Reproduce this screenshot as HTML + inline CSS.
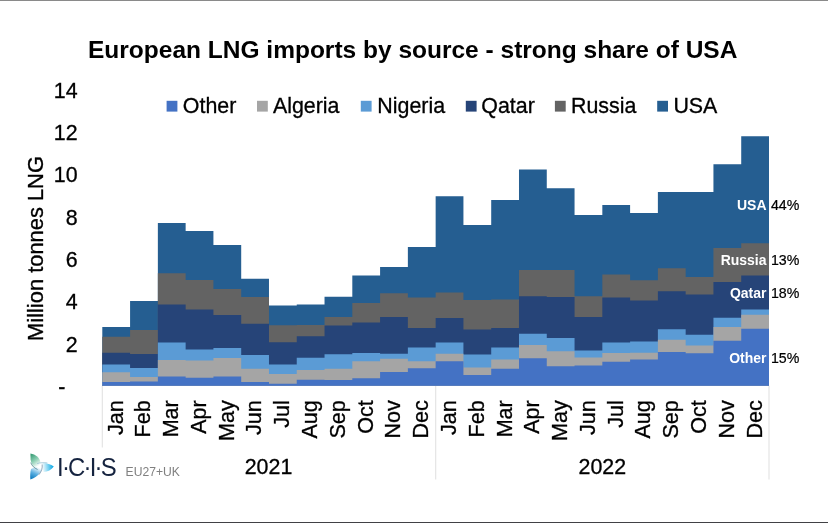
<!DOCTYPE html>
<html lang="en">
<head>
<meta charset="utf-8">
<title>European LNG imports by source</title>
<style>
html,body{margin:0;padding:0;background:#fff;}
body{width:828px;height:523px;overflow:hidden;position:relative;font-family:"Liberation Sans",Arial,sans-serif;}
</style>
</head>
<body>
<svg width="828" height="523" viewBox="0 0 828 523" style="position:absolute;left:0;top:0">
<defs><linearGradient id="g1" gradientUnits="userSpaceOnUse" x1="31" y1="455" x2="39.5" y2="467"><stop offset="0" stop-color="#3d9f78"/><stop offset="0.45" stop-color="#8fd0b5"/><stop offset="0.9" stop-color="#ffffff"/></linearGradient><linearGradient id="g2" gradientUnits="userSpaceOnUse" x1="53" y1="466.4" x2="41.5" y2="467.5"><stop offset="0" stop-color="#10a8e4"/><stop offset="0.45" stop-color="#7fd4f2"/><stop offset="0.95" stop-color="#ffffff"/></linearGradient><linearGradient id="g3" gradientUnits="userSpaceOnUse" x1="31" y1="479" x2="37" y2="466"><stop offset="0" stop-color="#0878bd"/><stop offset="0.45" stop-color="#5aaee0"/><stop offset="0.95" stop-color="#ffffff"/></linearGradient></defs>
<rect x="0" y="0" width="828" height="523" fill="#fff"/>
<rect x="0" y="0" width="828" height="1" fill="#8a8a8a"/>
<rect x="0" y="522" width="828" height="1" fill="#414145"/>
<g stroke="#e2e2e2" stroke-width="1.1" fill="none"><path d="M102.3,385.8 V447.5"/><path d="M435.7,385.8 V479.5"/><path d="M769.0,385.8 V479.5"/></g>
<g shape-rendering="auto">
<path d="M102.30,385.80 L102.30,327.00 L130.08,327.00 L130.08,301.00 L157.86,301.00 L157.86,223.00 L185.64,223.00 L185.64,231.00 L213.42,231.00 L213.42,245.00 L241.20,245.00 L241.20,278.75 L268.98,278.75 L268.98,305.50 L296.75,305.50 L296.75,304.50 L324.53,304.50 L324.53,296.75 L352.31,296.75 L352.31,275.50 L380.09,275.50 L380.09,267.00 L407.87,267.00 L407.87,247.00 L435.65,247.00 L435.65,196.25 L463.43,196.25 L463.43,225.00 L491.21,225.00 L491.21,200.00 L518.99,200.00 L518.99,169.50 L546.77,169.50 L546.77,188.25 L574.55,188.25 L574.55,215.00 L602.33,215.00 L602.33,205.00 L630.10,205.00 L630.10,213.00 L657.88,213.00 L657.88,192.00 L685.66,192.00 L685.66,192.00 L713.44,192.00 L713.44,164.25 L741.22,164.25 L741.22,136.25 L769.00,136.25 L769.00,385.80 Z" fill="#255e91"/>
<path d="M102.30,385.80 L102.30,336.75 L130.08,336.75 L130.08,330.00 L157.86,330.00 L157.86,273.25 L185.64,273.25 L185.64,280.00 L213.42,280.00 L213.42,289.00 L241.20,289.00 L241.20,297.00 L268.98,297.00 L268.98,325.25 L296.75,325.25 L296.75,325.00 L324.53,325.00 L324.53,317.00 L352.31,317.00 L352.31,303.00 L380.09,303.00 L380.09,293.25 L407.87,293.25 L407.87,297.50 L435.65,297.50 L435.65,292.50 L463.43,292.50 L463.43,300.00 L491.21,300.00 L491.21,299.50 L518.99,299.50 L518.99,270.00 L546.77,270.00 L546.77,270.00 L574.55,270.00 L574.55,296.25 L602.33,296.25 L602.33,274.50 L630.10,274.50 L630.10,280.25 L657.88,280.25 L657.88,268.25 L685.66,268.25 L685.66,277.00 L713.44,277.00 L713.44,248.00 L741.22,248.00 L741.22,243.25 L769.00,243.25 L769.00,385.80 Z" fill="#636363"/>
<path d="M102.30,385.80 L102.30,352.75 L130.08,352.75 L130.08,354.00 L157.86,354.00 L157.86,304.50 L185.64,304.50 L185.64,309.50 L213.42,309.50 L213.42,315.00 L241.20,315.00 L241.20,323.75 L268.98,323.75 L268.98,342.30 L296.75,342.30 L296.75,336.25 L324.53,336.25 L324.53,325.50 L352.31,325.50 L352.31,322.50 L380.09,322.50 L380.09,317.00 L407.87,317.00 L407.87,328.00 L435.65,328.00 L435.65,318.00 L463.43,318.00 L463.43,329.50 L491.21,329.50 L491.21,328.00 L518.99,328.00 L518.99,296.25 L546.77,296.25 L546.77,297.00 L574.55,297.00 L574.55,317.00 L602.33,317.00 L602.33,297.50 L630.10,297.50 L630.10,300.60 L657.88,300.60 L657.88,291.25 L685.66,291.25 L685.66,294.50 L713.44,294.50 L713.44,282.00 L741.22,282.00 L741.22,275.50 L769.00,275.50 L769.00,385.80 Z" fill="#264478"/>
<path d="M102.30,385.80 L102.30,364.60 L130.08,364.60 L130.08,368.00 L157.86,368.00 L157.86,342.50 L185.64,342.50 L185.64,349.60 L213.42,349.60 L213.42,348.00 L241.20,348.00 L241.20,355.00 L268.98,355.00 L268.98,364.50 L296.75,364.50 L296.75,357.70 L324.53,357.70 L324.53,354.25 L352.31,354.25 L352.31,353.00 L380.09,353.00 L380.09,353.75 L407.87,353.75 L407.87,347.50 L435.65,347.50 L435.65,342.50 L463.43,342.50 L463.43,354.50 L491.21,354.50 L491.21,347.50 L518.99,347.50 L518.99,333.75 L546.77,333.75 L546.77,338.00 L574.55,338.00 L574.55,350.50 L602.33,350.50 L602.33,342.50 L630.10,342.50 L630.10,341.60 L657.88,341.60 L657.88,329.20 L685.66,329.20 L685.66,334.75 L713.44,334.75 L713.44,317.75 L741.22,317.75 L741.22,309.50 L769.00,309.50 L769.00,385.80 Z" fill="#5b9bd5"/>
<path d="M102.30,385.80 L102.30,372.30 L130.08,372.30 L130.08,377.00 L157.86,377.00 L157.86,360.00 L185.64,360.00 L185.64,360.50 L213.42,360.50 L213.42,358.00 L241.20,358.00 L241.20,368.75 L268.98,368.75 L268.98,374.00 L296.75,374.00 L296.75,370.00 L324.53,370.00 L324.53,368.75 L352.31,368.75 L352.31,361.25 L380.09,361.25 L380.09,358.75 L407.87,358.75 L407.87,361.25 L435.65,361.25 L435.65,353.75 L463.43,353.75 L463.43,367.50 L491.21,367.50 L491.21,359.50 L518.99,359.50 L518.99,345.00 L546.77,345.00 L546.77,351.25 L574.55,351.25 L574.55,357.50 L602.33,357.50 L602.33,353.00 L630.10,353.00 L630.10,352.75 L657.88,352.75 L657.88,339.75 L685.66,339.75 L685.66,345.40 L713.44,345.40 L713.44,327.00 L741.22,327.00 L741.22,314.75 L769.00,314.75 L769.00,385.80 Z" fill="#a5a5a5"/>
<path d="M102.30,385.80 L102.30,382.00 L130.08,382.00 L130.08,381.50 L157.86,381.50 L157.86,376.50 L185.64,376.50 L185.64,377.70 L213.42,377.70 L213.42,376.50 L241.20,376.50 L241.20,382.00 L268.98,382.00 L268.98,383.80 L296.75,383.80 L296.75,379.70 L324.53,379.70 L324.53,380.00 L352.31,380.00 L352.31,378.25 L380.09,378.25 L380.09,372.00 L407.87,372.00 L407.87,368.25 L435.65,368.25 L435.65,361.25 L463.43,361.25 L463.43,375.00 L491.21,375.00 L491.21,368.75 L518.99,368.75 L518.99,358.25 L546.77,358.25 L546.77,366.25 L574.55,366.25 L574.55,365.50 L602.33,365.50 L602.33,361.75 L630.10,361.75 L630.10,359.50 L657.88,359.50 L657.88,352.00 L685.66,352.00 L685.66,353.25 L713.44,353.25 L713.44,340.75 L741.22,340.75 L741.22,328.75 L769.00,328.75 L769.00,385.80 Z" fill="#4472c4"/>
</g>
<text transform="translate(412.70,58.00)" text-anchor="middle" font-family="Liberation Sans, Arial, sans-serif" font-size="24.5" font-weight="bold" fill="#000">European LNG imports by source - strong share of USA</text>
<rect x="166.6" y="100.8" width="10.8" height="10.8" fill="#4472c4"/>
<text transform="translate(182.80,113.20) scale(1,1.04)" font-family="Liberation Sans, Arial, sans-serif" font-size="21.4" fill="#000" stroke="#000" stroke-width="0.30">Other</text>
<rect x="257.0" y="100.8" width="10.8" height="10.8" fill="#a5a5a5"/>
<text transform="translate(272.90,113.20) scale(1,1.04)" font-family="Liberation Sans, Arial, sans-serif" font-size="21.4" fill="#000" stroke="#000" stroke-width="0.30">Algeria</text>
<rect x="360.8" y="100.8" width="10.8" height="10.8" fill="#5b9bd5"/>
<text transform="translate(377.30,113.20) scale(1,1.04)" font-family="Liberation Sans, Arial, sans-serif" font-size="21.4" fill="#000" stroke="#000" stroke-width="0.30">Nigeria</text>
<rect x="465.8" y="100.8" width="10.8" height="10.8" fill="#264478"/>
<text transform="translate(481.30,113.20) scale(1,1.04)" font-family="Liberation Sans, Arial, sans-serif" font-size="21.4" fill="#000" stroke="#000" stroke-width="0.30">Qatar</text>
<rect x="554.9" y="100.8" width="10.8" height="10.8" fill="#636363"/>
<text transform="translate(571.00,113.20) scale(1,1.04)" font-family="Liberation Sans, Arial, sans-serif" font-size="21.4" fill="#000" stroke="#000" stroke-width="0.30">Russia</text>
<rect x="657.2" y="100.8" width="10.8" height="10.8" fill="#255e91"/>
<text transform="translate(673.40,113.20) scale(1,1.04)" font-family="Liberation Sans, Arial, sans-serif" font-size="21.4" fill="#000" stroke="#000" stroke-width="0.30">USA</text>
<text transform="translate(77.60,97.60) scale(1,1.04)" text-anchor="end" font-family="Liberation Sans, Arial, sans-serif" font-size="21.4" fill="#000" stroke="#000" stroke-width="0.30">14</text>
<text transform="translate(77.60,139.93) scale(1,1.04)" text-anchor="end" font-family="Liberation Sans, Arial, sans-serif" font-size="21.4" fill="#000" stroke="#000" stroke-width="0.30">12</text>
<text transform="translate(77.60,182.26) scale(1,1.04)" text-anchor="end" font-family="Liberation Sans, Arial, sans-serif" font-size="21.4" fill="#000" stroke="#000" stroke-width="0.30">10</text>
<text transform="translate(77.60,224.59) scale(1,1.04)" text-anchor="end" font-family="Liberation Sans, Arial, sans-serif" font-size="21.4" fill="#000" stroke="#000" stroke-width="0.30">8</text>
<text transform="translate(77.60,266.92) scale(1,1.04)" text-anchor="end" font-family="Liberation Sans, Arial, sans-serif" font-size="21.4" fill="#000" stroke="#000" stroke-width="0.30">6</text>
<text transform="translate(77.60,309.25) scale(1,1.04)" text-anchor="end" font-family="Liberation Sans, Arial, sans-serif" font-size="21.4" fill="#000" stroke="#000" stroke-width="0.30">4</text>
<text transform="translate(77.60,351.58) scale(1,1.04)" text-anchor="end" font-family="Liberation Sans, Arial, sans-serif" font-size="21.4" fill="#000" stroke="#000" stroke-width="0.30">2</text>
<text transform="translate(65.40,394.10) scale(1,1.04)" text-anchor="end" font-family="Liberation Sans, Arial, sans-serif" font-size="21.4" fill="#000" stroke="#000" stroke-width="0.30">-</text>
<text transform="translate(43.40,248.50) rotate(-90) scale(1,1.04)" text-anchor="middle" font-family="Liberation Sans, Arial, sans-serif" font-size="21.9" fill="#000" stroke="#000" stroke-width="0.31">Million tonnes LNG</text>
<text transform="translate(122.59,400.20) rotate(-90) scale(1,1.04)" text-anchor="end" font-family="Liberation Sans, Arial, sans-serif" font-size="21.6" fill="#000" stroke="#000" stroke-width="0.30">Jan</text>
<text transform="translate(150.37,400.20) rotate(-90) scale(1,1.04)" text-anchor="end" font-family="Liberation Sans, Arial, sans-serif" font-size="21.6" fill="#000" stroke="#000" stroke-width="0.30">Feb</text>
<text transform="translate(178.15,400.20) rotate(-90) scale(1,1.04)" text-anchor="end" font-family="Liberation Sans, Arial, sans-serif" font-size="21.6" fill="#000" stroke="#000" stroke-width="0.30">Mar</text>
<text transform="translate(205.93,400.20) rotate(-90) scale(1,1.04)" text-anchor="end" font-family="Liberation Sans, Arial, sans-serif" font-size="21.6" fill="#000" stroke="#000" stroke-width="0.30">Apr</text>
<text transform="translate(233.71,400.20) rotate(-90) scale(1,1.04)" text-anchor="end" font-family="Liberation Sans, Arial, sans-serif" font-size="21.6" fill="#000" stroke="#000" stroke-width="0.30">May</text>
<text transform="translate(261.49,400.20) rotate(-90) scale(1,1.04)" text-anchor="end" font-family="Liberation Sans, Arial, sans-serif" font-size="21.6" fill="#000" stroke="#000" stroke-width="0.30">Jun</text>
<text transform="translate(289.26,400.20) rotate(-90) scale(1,1.04)" text-anchor="end" font-family="Liberation Sans, Arial, sans-serif" font-size="21.6" fill="#000" stroke="#000" stroke-width="0.30">Jul</text>
<text transform="translate(317.04,400.20) rotate(-90) scale(1,1.04)" text-anchor="end" font-family="Liberation Sans, Arial, sans-serif" font-size="21.6" fill="#000" stroke="#000" stroke-width="0.30">Aug</text>
<text transform="translate(344.82,400.20) rotate(-90) scale(1,1.04)" text-anchor="end" font-family="Liberation Sans, Arial, sans-serif" font-size="21.6" fill="#000" stroke="#000" stroke-width="0.30">Sep</text>
<text transform="translate(372.60,400.20) rotate(-90) scale(1,1.04)" text-anchor="end" font-family="Liberation Sans, Arial, sans-serif" font-size="21.6" fill="#000" stroke="#000" stroke-width="0.30">Oct</text>
<text transform="translate(400.38,400.20) rotate(-90) scale(1,1.04)" text-anchor="end" font-family="Liberation Sans, Arial, sans-serif" font-size="21.6" fill="#000" stroke="#000" stroke-width="0.30">Nov</text>
<text transform="translate(428.16,400.20) rotate(-90) scale(1,1.04)" text-anchor="end" font-family="Liberation Sans, Arial, sans-serif" font-size="21.6" fill="#000" stroke="#000" stroke-width="0.30">Dec</text>
<text transform="translate(455.94,400.20) rotate(-90) scale(1,1.04)" text-anchor="end" font-family="Liberation Sans, Arial, sans-serif" font-size="21.6" fill="#000" stroke="#000" stroke-width="0.30">Jan</text>
<text transform="translate(483.72,400.20) rotate(-90) scale(1,1.04)" text-anchor="end" font-family="Liberation Sans, Arial, sans-serif" font-size="21.6" fill="#000" stroke="#000" stroke-width="0.30">Feb</text>
<text transform="translate(511.50,400.20) rotate(-90) scale(1,1.04)" text-anchor="end" font-family="Liberation Sans, Arial, sans-serif" font-size="21.6" fill="#000" stroke="#000" stroke-width="0.30">Mar</text>
<text transform="translate(539.28,400.20) rotate(-90) scale(1,1.04)" text-anchor="end" font-family="Liberation Sans, Arial, sans-serif" font-size="21.6" fill="#000" stroke="#000" stroke-width="0.30">Apr</text>
<text transform="translate(567.06,400.20) rotate(-90) scale(1,1.04)" text-anchor="end" font-family="Liberation Sans, Arial, sans-serif" font-size="21.6" fill="#000" stroke="#000" stroke-width="0.30">May</text>
<text transform="translate(594.84,400.20) rotate(-90) scale(1,1.04)" text-anchor="end" font-family="Liberation Sans, Arial, sans-serif" font-size="21.6" fill="#000" stroke="#000" stroke-width="0.30">Jun</text>
<text transform="translate(622.61,400.20) rotate(-90) scale(1,1.04)" text-anchor="end" font-family="Liberation Sans, Arial, sans-serif" font-size="21.6" fill="#000" stroke="#000" stroke-width="0.30">Jul</text>
<text transform="translate(650.39,400.20) rotate(-90) scale(1,1.04)" text-anchor="end" font-family="Liberation Sans, Arial, sans-serif" font-size="21.6" fill="#000" stroke="#000" stroke-width="0.30">Aug</text>
<text transform="translate(678.17,400.20) rotate(-90) scale(1,1.04)" text-anchor="end" font-family="Liberation Sans, Arial, sans-serif" font-size="21.6" fill="#000" stroke="#000" stroke-width="0.30">Sep</text>
<text transform="translate(705.95,400.20) rotate(-90) scale(1,1.04)" text-anchor="end" font-family="Liberation Sans, Arial, sans-serif" font-size="21.6" fill="#000" stroke="#000" stroke-width="0.30">Oct</text>
<text transform="translate(733.73,400.20) rotate(-90) scale(1,1.04)" text-anchor="end" font-family="Liberation Sans, Arial, sans-serif" font-size="21.6" fill="#000" stroke="#000" stroke-width="0.30">Nov</text>
<text transform="translate(761.51,400.20) rotate(-90) scale(1,1.04)" text-anchor="end" font-family="Liberation Sans, Arial, sans-serif" font-size="21.6" fill="#000" stroke="#000" stroke-width="0.30">Dec</text>
<text transform="translate(268.48,474.20) scale(1,1.04)" text-anchor="middle" font-family="Liberation Sans, Arial, sans-serif" font-size="21.4" fill="#000" stroke="#000" stroke-width="0.30">2021</text>
<text transform="translate(602.33,474.20) scale(1,1.04)" text-anchor="middle" font-family="Liberation Sans, Arial, sans-serif" font-size="21.4" fill="#000" stroke="#000" stroke-width="0.30">2022</text>
<text transform="translate(766.50,209.60) scale(1,1.04)" text-anchor="end" font-family="Liberation Sans, Arial, sans-serif" font-size="14" font-weight="bold" fill="#fff">USA</text>
<text transform="translate(770.90,209.60) scale(1,1.04)" font-family="Liberation Sans, Arial, sans-serif" font-size="14.2" fill="#000" stroke="#000" stroke-width="0.20">44%</text>
<text transform="translate(766.50,265.00) scale(1,1.04)" text-anchor="end" font-family="Liberation Sans, Arial, sans-serif" font-size="14" font-weight="bold" fill="#fff">Russia</text>
<text transform="translate(770.90,265.00) scale(1,1.04)" font-family="Liberation Sans, Arial, sans-serif" font-size="14.2" fill="#000" stroke="#000" stroke-width="0.20">13%</text>
<text transform="translate(766.50,298.00) scale(1,1.04)" text-anchor="end" font-family="Liberation Sans, Arial, sans-serif" font-size="14" font-weight="bold" fill="#fff">Qatar</text>
<text transform="translate(770.90,298.00) scale(1,1.04)" font-family="Liberation Sans, Arial, sans-serif" font-size="14.2" fill="#000" stroke="#000" stroke-width="0.20">18%</text>
<text transform="translate(766.50,363.00) scale(1,1.04)" text-anchor="end" font-family="Liberation Sans, Arial, sans-serif" font-size="14" font-weight="bold" fill="#fff">Other</text>
<text transform="translate(770.90,363.00) scale(1,1.04)" font-family="Liberation Sans, Arial, sans-serif" font-size="14.2" fill="#000" stroke="#000" stroke-width="0.20">15%</text>
<g><path d="M30.4,453.6 C35.5,454.4 40,458 40.4,462.6 C40.2,465.2 39,467.6 37.2,469.2 C33.4,467.2 31,463.5 30.6,459.5 Z" fill="url(#g1)"/><path d="M53.8,466.4 C50,463.3 44,462.2 37.4,463.3 C39.6,463.9 41.4,464.6 42.4,465.6 C42.4,468 42.8,470.2 43.5,471.9 C47.5,472 51.2,469.9 53.8,466.4 Z" fill="url(#g2)"/><path d="M30.4,479.6 C30,476 30.2,472.4 31,469 C34.5,467.2 38.5,466 42.2,464.8 C43,470.2 39,476.6 30.4,479.6 Z" fill="url(#g3)"/><path d="M30.9,463 C32,466 34.2,468 37.2,469.3" fill="none" stroke="#2f6f78" stroke-width="0.9" stroke-opacity="0.75" stroke-linecap="round"/><path d="M42.2,464.9 C42.6,468 41.6,471.5 39.2,474.4" fill="none" stroke="#5f7f9a" stroke-width="0.9" stroke-opacity="0.75" stroke-linecap="round"/><path d="M37.6,463.5 C40.5,462.6 44,462.4 47,462.9" fill="none" stroke="#6fa9c4" stroke-width="0.8" stroke-opacity="0.7" stroke-linecap="round"/></g>
<text transform="translate(57.10,476.10) scale(1,1.04)" font-family="Liberation Sans, Arial, sans-serif" font-size="23.9" fill="#15233f" textLength="59.6" lengthAdjust="spacing">I·C·I·S</text>
<text transform="translate(125.60,475.90) scale(1,1.04)" font-family="Liberation Sans, Arial, sans-serif" font-size="12.15" fill="#808080">EU27+UK</text>
</svg>
</body>
</html>
